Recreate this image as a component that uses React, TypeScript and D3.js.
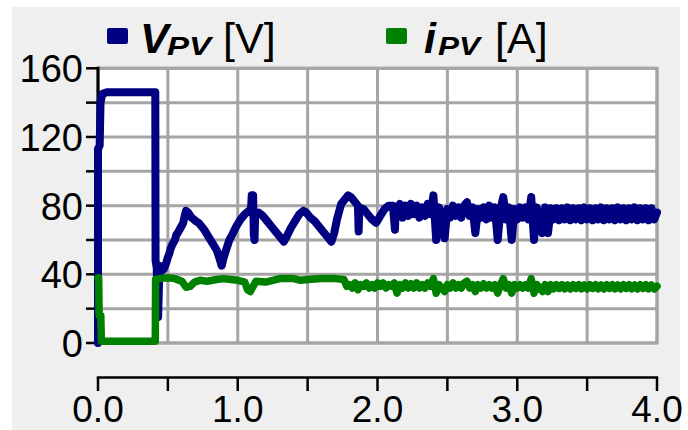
import React from "react";
import * as d3 from "d3";

// Axis ticks and labels
const xTicks = [0, 0.5, 1, 1.5, 2, 2.5, 3, 3.5, 4];
const xLabelValues = [0, 1, 2, 3, 4];
const xLabelTexts = ["0.0", "1.0", "2.0", "3.0", "4.0"];
const yTicks = [0, 20, 40, 60, 80, 100, 120, 140, 160];
const yLabelValues = [0, 40, 80, 120, 160];

// PV voltage [V]: start-up and MPPT transient as (time, value) pairs
const vpvTransient: [number, number][] = [
  [0.0, 0], [0.0, 113], [0.012, 115], [0.018, 140], [0.03, 145], [0.06, 146],
  [0.41, 146], [0.412, 48], [0.42, 44], [0.43, 15], [0.435, 30], [0.44, 45],
  [0.455, 42], [0.47, 43], [0.49, 47], [0.5, 50], [0.51, 52], [0.52, 55], [0.53, 57],
  [0.55, 60], [0.56, 63], [0.57, 64], [0.59, 67], [0.61, 70], [0.62, 74], [0.63, 77],
  [0.645, 76], [0.67, 73], [0.7, 71], [0.72, 70], [0.73, 69], [0.76, 66], [0.79, 62],
  [0.82, 58], [0.85, 54], [0.87, 49], [0.885, 45], [0.9, 50], [0.92, 55],
  [0.94, 60], [0.96, 63], [0.99, 68], [1.02, 72], [1.05, 75], [1.08, 77],
  [1.095, 78], [1.1, 86], [1.11, 86], [1.115, 63], [1.12, 60], [1.125, 75],
  [1.15, 76], [1.18, 74], [1.21, 71], [1.24, 68], [1.27, 65], [1.3, 62],
  [1.33, 59], [1.35, 62], [1.38, 67], [1.41, 71], [1.44, 75], [1.47, 77],
  [1.49, 76], [1.52, 73], [1.55, 71], [1.58, 68], [1.61, 65], [1.64, 62],
  [1.67, 59], [1.69, 64], [1.71, 72], [1.74, 81], [1.77, 84], [1.79, 86],
  [1.81, 85], [1.83, 83], [1.85, 81], [1.86, 80], [1.865, 65], [1.87, 79],
  [1.9, 78], [1.93, 75], [1.96, 72], [1.99, 70], [2.02, 74], [2.05, 78],
  [2.08, 80], [2.11, 80], [2.125, 66], [2.13, 78],
];

// PV voltage [V]: steady-state samples, one every 20 ms from 2.14 s
const vpvSampleStart = 2.14;
const vpvSamples = [
  77, 81, 73, 80, 74, 81, 75, 80, 73, 79,
  74, 81, 75, 86, 60, 79, 73, 61, 78, 73,
  80, 74, 79, 73, 80, 82, 74, 79, 64, 78,
  73, 79, 72, 80, 73, 79, 60, 78, 85, 72,
  79, 60, 78, 72, 79, 73, 79, 72, 85, 60,
  79, 72, 64, 79, 64, 78.5, 72, 78.5, 71.5, 78.5,
  72, 79, 71.5, 78.5, 72, 78.5, 71.5, 79, 72, 78.5,
  71.5, 78.5, 72, 79, 71.5, 78.5, 72, 78.5, 71.5, 79,
  72, 78.5, 71.5, 78.5, 72, 79, 71.5, 78.5, 72, 78.5,
  71.5, 78.5, 72, 76,
];

// PV current [A]: start-up transient as (time, value) pairs
const ipvTransient: [number, number][] = [
  [0.0, 38], [0.005, 38], [0.008, 16], [0.02, 16], [0.024, 1], [0.41, 1],
  [0.412, 37], [0.44, 37.5], [0.5, 38], [0.55, 37.5], [0.6, 36], [0.63, 32.5],
  [0.66, 33], [0.69, 35.5], [0.73, 36.5], [0.78, 36], [0.85, 37], [0.9, 37.5],
  [0.95, 37], [1.0, 36.5], [1.05, 35.5], [1.07, 31], [1.09, 30], [1.11, 33],
  [1.13, 36], [1.2, 35.5], [1.25, 36.5], [1.3, 37.5], [1.4, 37.5], [1.45, 36.5],
  [1.5, 37], [1.6, 37.5], [1.7, 37.5], [1.76, 37], [1.78, 33],
];

// PV current [A]: steady-state samples, one every 20 ms from 1.80 s
const ipvSampleStart = 1.8;
const ipvSamples = [
  34, 32, 35, 31, 34, 33, 35, 32, 34, 32,
  35, 33, 35, 32, 34, 33, 35, 29, 34, 32,
  35, 32, 34.5, 32, 35, 32, 34, 32, 35, 33,
  37.5, 29, 34, 32, 30, 34, 32, 35, 32, 34,
  32, 35, 36, 32, 34, 30, 34, 32, 34.5, 32,
  34, 32, 34, 29, 34, 37.5, 32, 34, 29, 34,
  32, 34, 32, 34, 32, 37.5, 29, 34, 32, 30,
  34, 30, 34, 31.5, 34, 31.8, 34, 31.5, 33.8, 31.5,
  34, 31.8, 34, 31.5, 33.8, 31.5, 34, 31.8, 34, 31.5,
  33.8, 31.5, 34, 31.8, 34, 31.5, 33.8, 31.5, 34, 31.8,
  34, 31.5, 33.8, 31.5, 34, 31.8, 34, 31.5, 33.8, 31.5,
  33,
];

const SAMPLE_STEP = 0.02;

const series = (
  transient: [number, number][],
  start: number,
  samples: number[]
): [number, number][] =>
  transient.concat(samples.map((v, i) => [start + i * SAMPLE_STEP, v] as [number, number]));

const vpvData = series(vpvTransient, vpvSampleStart, vpvSamples);
const ipvData = series(ipvTransient, ipvSampleStart, ipvSamples);

const W = 688;
const H = 430;
const plot = { left: 98, right: 657, top: 68.3, bottom: 343 };
const xAxisY = 377.5;
const FONT = "'Liberation Sans', Arial, Helvetica, sans-serif";
const NAVY = "#000080";
const GREEN = "#008000";
const GRID = "#a5a5a5";

export default function App() {
  const x = d3.scaleLinear().domain([0, 4]).range([plot.left, plot.right]);
  const y = d3.scaleLinear().domain([0, 160]).range([plot.bottom, plot.top]);
  const line = d3
    .line<[number, number]>()
    .x((d) => x(d[0]))
    .y((d) => y(d[1]));

  return (
    <div style={{ position: "fixed", left: 0, top: 0 }}>
      <svg width={W} height={H} style={{ display: "block" }} fontFamily={FONT}>
        <rect x={0} y={0} width={W} height={H} fill="#ffffff" />
        <rect x={12} y={7} width={668} height={423} fill="#efefef" />
        <rect
          x={plot.left}
          y={plot.top}
          width={plot.right - plot.left}
          height={plot.bottom - plot.top}
          fill="#ffffff"
        />
        {/* grid */}
        {xTicks.map((t) => (
          <line
            key={"gx" + t}
            x1={x(t)}
            x2={x(t)}
            y1={plot.top}
            y2={plot.bottom}
            stroke={GRID}
            strokeWidth={3}
          />
        ))}
        {yTicks.map((t) => (
          <line
            key={"gy" + t}
            x1={plot.left}
            x2={plot.right}
            y1={y(t)}
            y2={y(t)}
            stroke={GRID}
            strokeWidth={3}
          />
        ))}
        <rect
          x={plot.left}
          y={plot.top}
          width={plot.right - plot.left}
          height={plot.bottom - plot.top}
          fill="none"
          stroke={GRID}
          strokeWidth={3}
        />
        {/* y axis */}
        <line x1={plot.left} x2={plot.left} y1={plot.top - 1.5} y2={plot.bottom + 1.5} stroke="#000" strokeWidth={3} />
        {yTicks.map((t) => (
          <line key={"ty" + t} x1={plot.left - 12} x2={plot.left} y1={y(t)} y2={y(t)} stroke="#000" strokeWidth={2.5} />
        ))}
        {yLabelValues.map((t) => (
          <text key={"ly" + t} x={83} y={y(t) + 14} textAnchor="end" fontSize={38} fill="#000">
            {t}
          </text>
        ))}
        {/* x axis */}
        <line x1={plot.left - 1.2} x2={plot.right + 1.2} y1={xAxisY} y2={xAxisY} stroke="#000" strokeWidth={2.5} />
        {xTicks.map((t) => (
          <line key={"tx" + t} x1={x(t)} x2={x(t)} y1={xAxisY} y2={xAxisY + 13.5} stroke="#000" strokeWidth={2.5} />
        ))}
        {xLabelValues.map((t, i) => (
          <text key={"lx" + t} x={x(t)} y={422} textAnchor="middle" fontSize={37} fill="#000">
            {xLabelTexts[i]}
          </text>
        ))}
        {/* data */}
        <path
          d={line(vpvData) ?? ""}
          fill="none"
          stroke={NAVY}
          strokeWidth={8}
          strokeLinejoin="round"
          strokeLinecap="round"
        />
        <path
          d={line(ipvData) ?? ""}
          fill="none"
          stroke={GREEN}
          strokeWidth={7.5}
          strokeLinejoin="round"
          strokeLinecap="round"
        />
        {/* legend */}
        <rect x={107} y={28} width={21} height={16} rx={2} fill={NAVY} />
        <text x={140} y={53} fontSize={43} fontWeight="bold" fontStyle="italic" fill="#000">V</text>
        <text x={167} y={55} fontSize={26} fontWeight="bold" fontStyle="italic" fill="#000" textLength={44} lengthAdjust="spacingAndGlyphs">PV</text>
        <text x={223} y={53} fontSize={43} fill="#000">[V]</text>
        <rect x={386} y={28} width={21} height={16} rx={2} fill={GREEN} />
        <text x={424} y={53} fontSize={43} fontWeight="bold" fontStyle="italic" fill="#000">i</text>
        <text x={438} y={55} fontSize={26} fontWeight="bold" fontStyle="italic" fill="#000" textLength={42} lengthAdjust="spacingAndGlyphs">PV</text>
        <text x={495} y={53} fontSize={43} fill="#000">[A]</text>
      </svg>
    </div>
  );
}
